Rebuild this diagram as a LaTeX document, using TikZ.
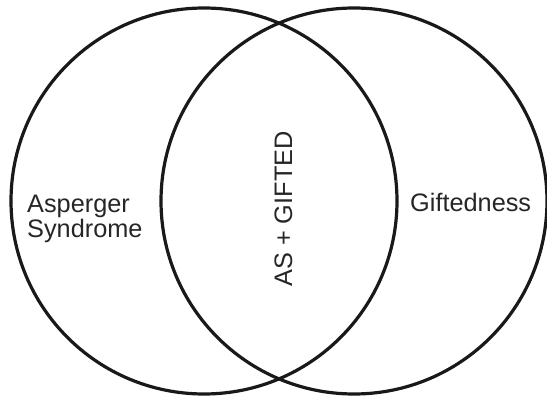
\documentclass[tikz,border=0pt]{standalone}
\usepackage{fontspec}
\setmainfont{Liberation Sans}
\begin{document}
\begin{tikzpicture}[x=1pt,y=-1pt,
  setcircle/.style={circle, draw=black!90, line width=3.2pt, minimum size=386pt, inner sep=0pt},
  label/.style={font=\fontsize{25.3}{25}\selectfont, inner sep=0pt, text=black!85}]
\useasboundingbox (0,0) rectangle (547,401);
\node[setcircle] (as) at (204,201) {};
\node[setcircle] (gift) at (354,201) {};
\node[label, anchor=base west, align=left] (asl) at (27,238) {Asperger\\Syndrome};
\node[label, anchor=base west] (gl) at (410,212) {Giftedness};
\node[label, rotate=90] (both) at (283.5,209) {AS + GIFTED};
\end{tikzpicture}
\end{document}
